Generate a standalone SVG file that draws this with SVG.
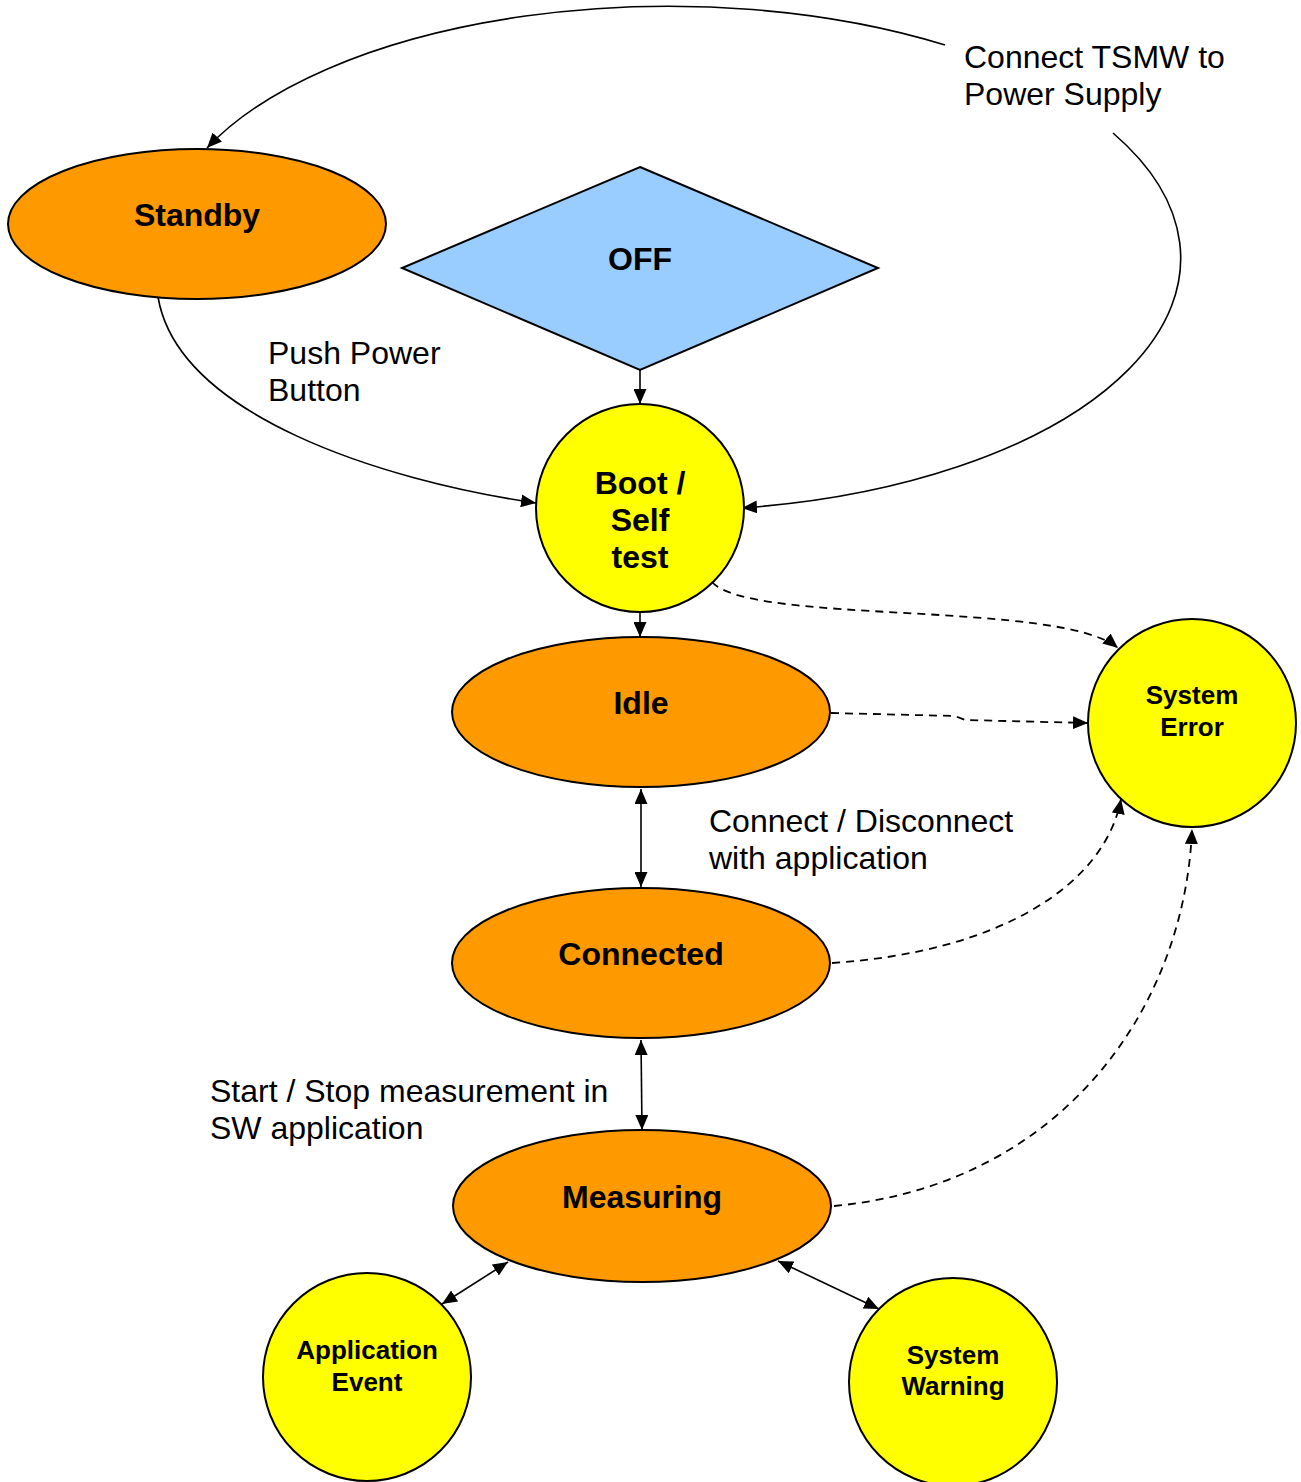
<svg xmlns="http://www.w3.org/2000/svg" width="1301" height="1482" viewBox="0 0 1301 1482">
<style>
.orange{fill:#FF9900;stroke:#000;stroke-width:2}
.yellow{fill:#FFFF00;stroke:#000;stroke-width:2}
.blue{fill:#99CCFF;stroke:#000;stroke-width:2}
.t{font-family:"Liberation Sans",Arial,sans-serif;font-weight:bold;font-size:32px;text-anchor:middle;fill:#000}
.ts{font-family:"Liberation Sans",Arial,sans-serif;font-weight:bold;font-size:26px;text-anchor:middle;fill:#000}
.lbl{font-family:"Liberation Sans",Arial,sans-serif;font-size:32px;fill:#000}
.c{fill:none;stroke:#000;stroke-width:1.6}
.d{fill:none;stroke:#000;stroke-width:1.8;stroke-dasharray:8,6}
</style>
<defs>
<marker id="ae" viewBox="0 0 15 13" refX="15" refY="6.5" markerWidth="15" markerHeight="13" markerUnits="userSpaceOnUse" orient="auto">
<path d="M0,0 L15,6.5 L0,13 z" fill="#000"/>
</marker>
<marker id="as" viewBox="0 0 15 13" refX="0" refY="6.5" markerWidth="15" markerHeight="13" markerUnits="userSpaceOnUse" orient="auto">
<path d="M15,0 L0,6.5 L15,13 z" fill="#000"/>
</marker>
</defs>
<rect width="1301" height="1482" fill="#fff"/>
<g id="connectors">
<path class="c" d="M945,45 A505,238 0 0 0 207,148" marker-end="url(#ae)"/>
<path class="c" d="M1113,133 A510,252 0 0 1 742,508" marker-end="url(#ae)"/>
<path class="c" d="M158,297 C178,415 380,480 536,503" marker-end="url(#ae)"/>
<path class="c" d="M640,370 L640,404" marker-end="url(#ae)"/>
<path class="c" d="M640,612 L640,637" marker-end="url(#ae)"/>
<path class="c" d="M641,789 L641,887" marker-start="url(#as)" marker-end="url(#ae)"/>
<path class="c" d="M641,1040 L642,1130" marker-start="url(#as)" marker-end="url(#ae)"/>
<path class="c" d="M508,1262 L442,1304" marker-start="url(#as)" marker-end="url(#ae)"/>
<path class="c" d="M778,1261 L879,1309" marker-start="url(#as)" marker-end="url(#ae)"/>
<path class="d" d="M712,582 C750,625 1060,600 1118,648" marker-end="url(#ae)"/>
<path class="d" d="M831,713 L955,716 L965,720 L1088,723" marker-end="url(#ae)"/>
<path class="d" d="M832,963 C1000,952 1105,885 1121,799" marker-end="url(#ae)"/>
<path class="d" d="M834,1206 C1060,1185 1185,1010 1192,829" marker-end="url(#ae)"/>
</g>
<g id="labels">
<text class="lbl" x="964" y="68">Connect TSMW to</text>
<text class="lbl" x="964" y="105">Power Supply</text>
<text class="lbl" x="268" y="364">Push Power</text>
<text class="lbl" x="268" y="401">Button</text>
<text class="lbl" x="709" y="832">Connect / Disconnect</text>
<text class="lbl" x="709" y="869">with application</text>
<text class="lbl" x="210" y="1102">Start / Stop measurement in</text>
<text class="lbl" x="210" y="1139">SW application</text>
</g>
<g id="standby">
<ellipse class="orange" cx="197" cy="224" rx="189" ry="75"/>
<text class="t" x="197" y="226">Standby</text>
</g>
<g id="off">
<polygon class="blue" points="640,167 878,268 640,370 402,268"/>
<text class="t" x="640" y="270">OFF</text>
</g>
<g id="boot">
<circle class="yellow" cx="640" cy="508" r="104"/>
<text class="t" x="640" y="494">Boot /</text>
<text class="t" x="640" y="531">Self</text>
<text class="t" x="640" y="568">test</text>
</g>
<g id="idle">
<ellipse class="orange" cx="641" cy="712" rx="189" ry="75"/>
<text class="t" x="641" y="714">Idle</text>
</g>
<g id="connected">
<ellipse class="orange" cx="641" cy="963" rx="189" ry="75"/>
<text class="t" x="641" y="965">Connected</text>
</g>
<g id="measuring">
<ellipse class="orange" cx="642" cy="1206" rx="189" ry="76"/>
<text class="t" x="642" y="1208">Measuring</text>
</g>
<g id="system-error">
<circle class="yellow" cx="1192" cy="723" r="104"/>
<text class="ts" x="1192" y="704">System</text>
<text class="ts" x="1192" y="736">Error</text>
</g>
<g id="application-event">
<circle class="yellow" cx="367" cy="1377" r="104"/>
<text class="ts" x="367" y="1359">Application</text>
<text class="ts" x="367" y="1391">Event</text>
</g>
<g id="system-warning">
<circle class="yellow" cx="953" cy="1382" r="104"/>
<text class="ts" x="953" y="1364">System</text>
<text class="ts" x="953" y="1395">Warning</text>
</g>
</svg>
